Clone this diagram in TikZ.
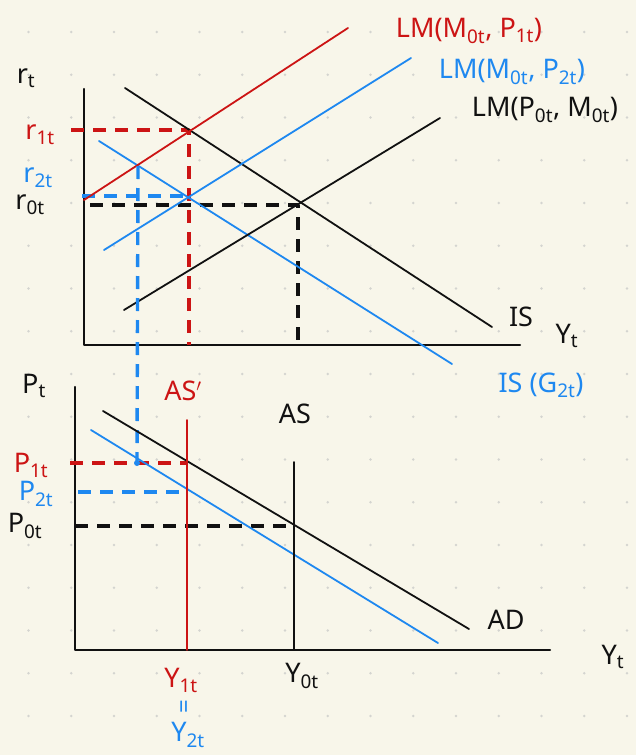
\documentclass[tikz,border=0pt]{standalone}
\usepackage{fontspec}
\setmainfont{Noto Sans}
\usepackage{tikz}
\usetikzlibrary{positioning}
\definecolor{paper}{HTML}{F8F6EA}
\definecolor{griddot}{HTML}{D4D4D0}
\definecolor{lmred}{HTML}{CC1414}
\definecolor{lmblue}{HTML}{1E88F0}
\definecolor{ink}{HTML}{111111}
\tikzset{
    every picture/.style={line cap=round,line join=round},
    axisline/.style={draw=ink,line width=2.2pt},
    curve/.style={line width=1.8pt},
    guide/.style={line width=3.4pt,line cap=butt,dash pattern=on 13pt off 9pt},
    lbl/.style={font=\fontsize{27}{29}\selectfont,inner sep=0pt,text=ink},
    redlbl/.style={lbl,text=lmred},
    bluelbl/.style={lbl,text=lmblue}
}

\begin{document}
\begin{tikzpicture}[x=1pt,y=-1pt]
  \fill[paper] (0,0) rectangle (636,755);
  \useasboundingbox (0,0) rectangle (636,755);
  % dotted paper
  \foreach \i in {0,...,14}
    \foreach \j in {0,...,16}
      \fill[griddot] (28.5+42.75*\i,32+42.75*\j) circle (1.3pt);

  % upper panel: r against Y
  \coordinate (o1) at (84,345);
  \coordinate (raxis) at (84,89);
  \coordinate (yaxis1) at (520,345);
  \draw[axisline] (raxis) -- (o1) -- (yaxis1);

  \coordinate (is0a) at (125,88);  \coordinate (is0b) at (492,327);
  \coordinate (is2a) at (99,141);  \coordinate (is2b) at (452,364);
  \coordinate (lm1a) at (84,200);  \coordinate (lm1b) at (348,28);
  \coordinate (lm2a) at (104,250); \coordinate (lm2b) at (411,58);
  \coordinate (lm0a) at (124,310); \coordinate (lm0b) at (440,118);

  \coordinate (e1) at (189,130);
  \coordinate (e2) at (189,196);
  \coordinate (e0) at (298,205);
  \coordinate (e3) at (138,166);

  \coordinate (r1tick) at (71,130);
  \coordinate (r2tick) at (82,196);
  \coordinate (r0tick) at (90,205);
  \coordinate (y1foot) at (189,345);
  \coordinate (y0foot) at (298,345);

  \draw[guide,ink] (r0tick) -- (e0) -- (y0foot);
  \draw[guide,lmblue] (r2tick) -- (e2);
  \draw[guide,lmred] (r1tick) -- (e1) -- (y1foot);

  \draw[curve,ink] (is0a) -- (is0b);
  \draw[curve,lmblue] (is2a) -- (is2b);
  \draw[curve,lmred] (lm1a) -- (lm1b);
  \draw[curve,lmblue] (lm2a) -- (lm2b);
  \draw[curve,ink] (lm0a) -- (lm0b);

  % lower panel: P against Y
  \coordinate (o2) at (75,650);
  \coordinate (paxis) at (75,387);
  \coordinate (yaxis2) at (550,650);
  \draw[axisline] (paxis) -- (o2) -- (yaxis2);

  \coordinate (ad0a) at (103,411); \coordinate (ad0b) at (469,629);
  \coordinate (ad2a) at (91,430);  \coordinate (ad2b) at (438,643);
  \coordinate (as1top) at (187,420); \coordinate (as1foot) at (187,650);
  \coordinate (as0top) at (294,462); \coordinate (as0foot) at (294,650);

  \coordinate (f1) at (187,463);
  \coordinate (f2) at (187,492);
  \coordinate (f0) at (294,526);
  \coordinate (p1tick) at (70,463);
  \coordinate (p2tick) at (78,492);
  \coordinate (p0tick) at (75,526);
  \coordinate (pdot) at (137,463);

  \draw[guide,ink] (p0tick) -- (f0);
  \draw[guide,lmblue] (p2tick) -- (f2);
  \draw[guide,lmred] (p1tick) -- (f1);
  \draw[guide,lmblue] (e3) -- (pdot);
  \fill[lmblue] (pdot) circle (3pt);

  \draw[curve,ink] (ad0a) -- (ad0b);
  \draw[curve,lmblue] (ad2a) -- (ad2b);
  \draw[curve,lmred] (as1top) -- (as1foot);
  \draw[curve,ink] (as0top) -- (as0foot);

  % labels
  \node[lbl] (rt) at (26,78) {r\textsubscript{t}};
  \node[redlbl] (r1t) at (40,135) {r\textsubscript{1t}};
  \node[bluelbl] (r2t) at (38,178) {r\textsubscript{2t}};
  \node[lbl] (r0t) at (30,205) {r\textsubscript{0t}};
  \node[redlbl] (lm1) at (469,31) {LM(M\textsubscript{0t}, P\textsubscript{1t})};
  \node[bluelbl] (lm2) at (512,72) {LM(M\textsubscript{0t}, P\textsubscript{2t})};
  \node[lbl] (lm0) at (545,110) {LM(P\textsubscript{0t}, M\textsubscript{0t})};
  \node[lbl] (is0) at (521,317) {IS};
  \node[lbl] (yt1) at (567,336) {Y\textsubscript{t}};
  \node[bluelbl] (is2) at (541,385) {IS (G\textsubscript{2t})};

  \node[lbl] (pt) at (34,386) {P\textsubscript{t}};
  \node[redlbl] (as1) at (183,391) {AS$'$};
  \node[lbl] (as0) at (295,414) {AS};
  \node[redlbl] (p1t) at (31,465) {P\textsubscript{1t}};
  \node[bluelbl] (p2t) at (36,494) {P\textsubscript{2t}};
  \node[lbl] (p0t) at (25,526) {P\textsubscript{0t}};
  \node[lbl] (ad) at (506,620) {AD};
  \node[lbl] (yt2) at (613,657) {Y\textsubscript{t}};
  \node[redlbl] (y1t) at (181,680) {Y\textsubscript{1t}};
  \node[bluelbl,rotate=90,font=\fontsize{24}{26}\selectfont] (eqs) at (187,707) {=};
  \node[bluelbl] (y2t) at (188,735) {Y\textsubscript{2t}};
  \node[lbl] (y0t) at (302,676) {Y\textsubscript{0t}};
\end{tikzpicture}
\end{document}
